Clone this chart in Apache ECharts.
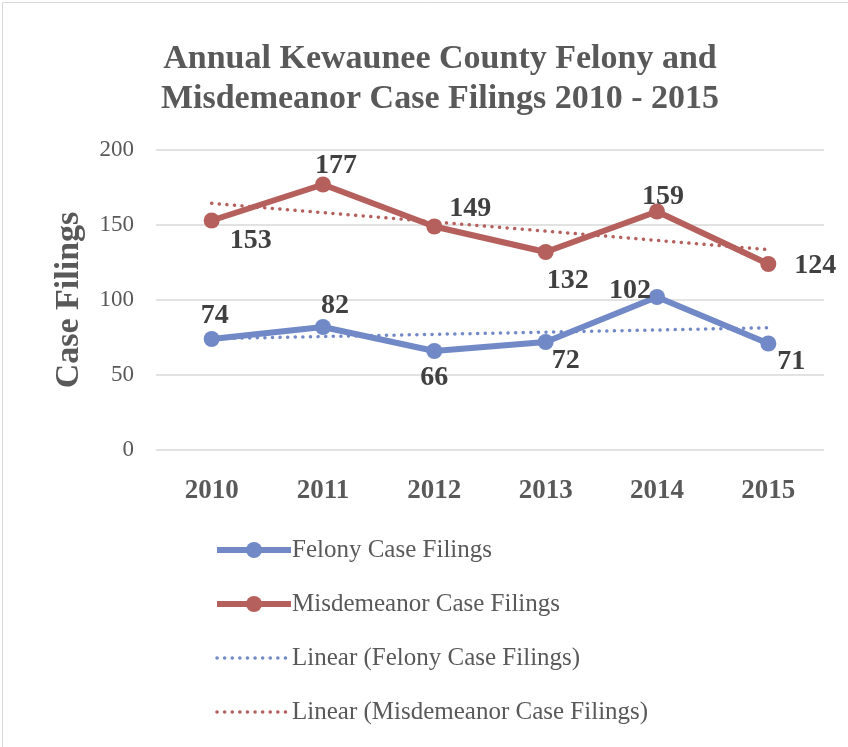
<!DOCTYPE html>
<html>
<head>
<meta charset="utf-8">
<script src="https://cdn.jsdelivr.net/npm/echarts@6/dist/echarts.min.js"></script>
<style>
  html, body { margin: 0; padding: 0; background: #ffffff; }
  #chart { width: 848px; height: 747px; }
</style>
</head>
<body>
<div id="chart"></div>
<script>
// Annual case filings, Kewaunee County
const years = ['2010', '2011', '2012', '2013', '2014', '2015'];
const felony = [74, 82, 66, 72, 102, 71];
const misdemeanor = [153, 177, 149, 132, 159, 124];
const yTicks = [0, 50, 100, 150, 200];

// Label offsets (pixels from each point) for the value labels
const felonyLabelOffsets = [[3, -23], [12, -21], [0, 27], [20, 19], [-27, -6], [23, 18]];
const misdLabelOffsets = [[39, 20], [13, -19], [36, -18], [22, 29], [6, -15], [47, 2]];

// Least-squares linear trend over category index
function linearTrend(values) {
  const n = values.length;
  let sx = 0, sy = 0, sxx = 0, sxy = 0;
  values.forEach((v, i) => { sx += i; sy += v; sxx += i * i; sxy += i * v; });
  const slope = (n * sxy - sx * sy) / (n * sxx - sx * sx);
  const intercept = (sy - slope * sx) / n;
  return values.map((_, i) => +(intercept + slope * i).toFixed(3));
}

const BLUE = '#7189C6';
const RED = '#B5605C';
const FONT = '"Liberation Serif", "Times New Roman", serif';
const DOTS = [0.1, 7.5];

function withLabels(values, offsets) {
  return values.map((v, i) => ({
    value: v,
    label: { position: 'inside', offset: offsets[i] }
  }));
}

const chart = echarts.init(document.getElementById('chart'), null, { renderer: 'canvas' });

chart.setOption({
  backgroundColor: '#ffffff',
  animation: false,
  textStyle: { fontFamily: FONT },
  title: {
    text: 'Annual Kewaunee County Felony and\nMisdemeanor Case Filings 2010 - 2015',
    left: 435,
    textAlign: 'center',
    top: 34,
    textStyle: {
      fontFamily: FONT,
      fontSize: 34,
      fontWeight: 'bold',
      color: '#595959',
      lineHeight: 40
    }
  },
  grid: { left: 156, right: 24, top: 150, bottom: 297, containLabel: false },
  xAxis: {
    type: 'category',
    data: years,
    boundaryGap: true,
    axisLine: { show: false },
    axisTick: { show: false },
    axisLabel: {
      margin: 28,
      fontFamily: FONT,
      fontSize: 27,
      fontWeight: 'bold',
      color: '#595959'
    }
  },
  yAxis: {
    type: 'value',
    min: yTicks[0],
    max: yTicks[yTicks.length - 1],
    interval: 50,
    name: 'Case Filings',
    nameLocation: 'middle',
    nameGap: 70,
    nameTextStyle: {
      fontFamily: FONT,
      fontSize: 34,
      fontWeight: 'bold',
      color: '#595959'
    },
    axisLine: { show: false },
    axisTick: { show: false },
    axisLabel: {
      margin: 22,
      fontFamily: FONT,
      fontSize: 23,
      color: '#595959'
    },
    splitLine: { lineStyle: { color: '#D9D9D9', width: 1.5 } }
  },
  legend: {
    orient: 'vertical',
    left: 214,
    top: 537,
    padding: 0,
    itemWidth: 74,
    itemHeight: 20,
    itemGap: 28,
    data: [
      { name: 'Felony Case Filings', lineStyle: { width: 6 } },
      { name: 'Misdemeanor Case Filings', lineStyle: { width: 6 } },
      { name: 'Linear (Felony Case Filings)', itemStyle: { opacity: 0 }, lineStyle: { width: 3.5, type: DOTS, cap: 'round' } },
      { name: 'Linear (Misdemeanor Case Filings)', itemStyle: { opacity: 0 }, lineStyle: { width: 3.5, type: DOTS, cap: 'round' } }
    ],
    textStyle: {
      fontFamily: FONT,
      fontSize: 25,
      lineHeight: 26,
      color: '#595959',
      padding: [0, 0, 0, -4]
    }
  },
  series: [
    {
      name: 'Linear (Felony Case Filings)',
      type: 'line',
      data: linearTrend(felony),
      showSymbol: false,
      symbol: 'none',
      z: 1,
      lineStyle: { color: BLUE, width: 3.5, type: DOTS, cap: 'round' },
      itemStyle: { color: BLUE }
    },
    {
      name: 'Linear (Misdemeanor Case Filings)',
      type: 'line',
      data: linearTrend(misdemeanor),
      showSymbol: false,
      symbol: 'none',
      z: 1,
      lineStyle: { color: RED, width: 3.5, type: DOTS, cap: 'round' },
      itemStyle: { color: RED }
    },
    {
      name: 'Felony Case Filings',
      type: 'line',
      data: withLabels(felony, felonyLabelOffsets),
      symbol: 'circle',
      symbolSize: 16,
      z: 3,
      lineStyle: { color: BLUE, width: 6 },
      itemStyle: { color: BLUE },
      label: {
        show: true,
        fontFamily: FONT,
        fontSize: 28,
        fontWeight: 'bold',
        color: '#404040'
      }
    },
    {
      name: 'Misdemeanor Case Filings',
      type: 'line',
      data: withLabels(misdemeanor, misdLabelOffsets),
      symbol: 'circle',
      symbolSize: 16,
      z: 3,
      lineStyle: { color: RED, width: 6 },
      itemStyle: { color: RED },
      label: {
        show: true,
        fontFamily: FONT,
        fontSize: 28,
        fontWeight: 'bold',
        color: '#404040'
      }
    }
  ],
  graphic: [{
    type: 'rect',
    left: 0, top: 0,
    shape: { x: 0.5, y: 0.5, width: 847, height: 746 },
    style: { fill: 'none', stroke: '#D9D9D9', lineWidth: 1 },
    silent: true
  }]
});
</script>
</body>
</html>
